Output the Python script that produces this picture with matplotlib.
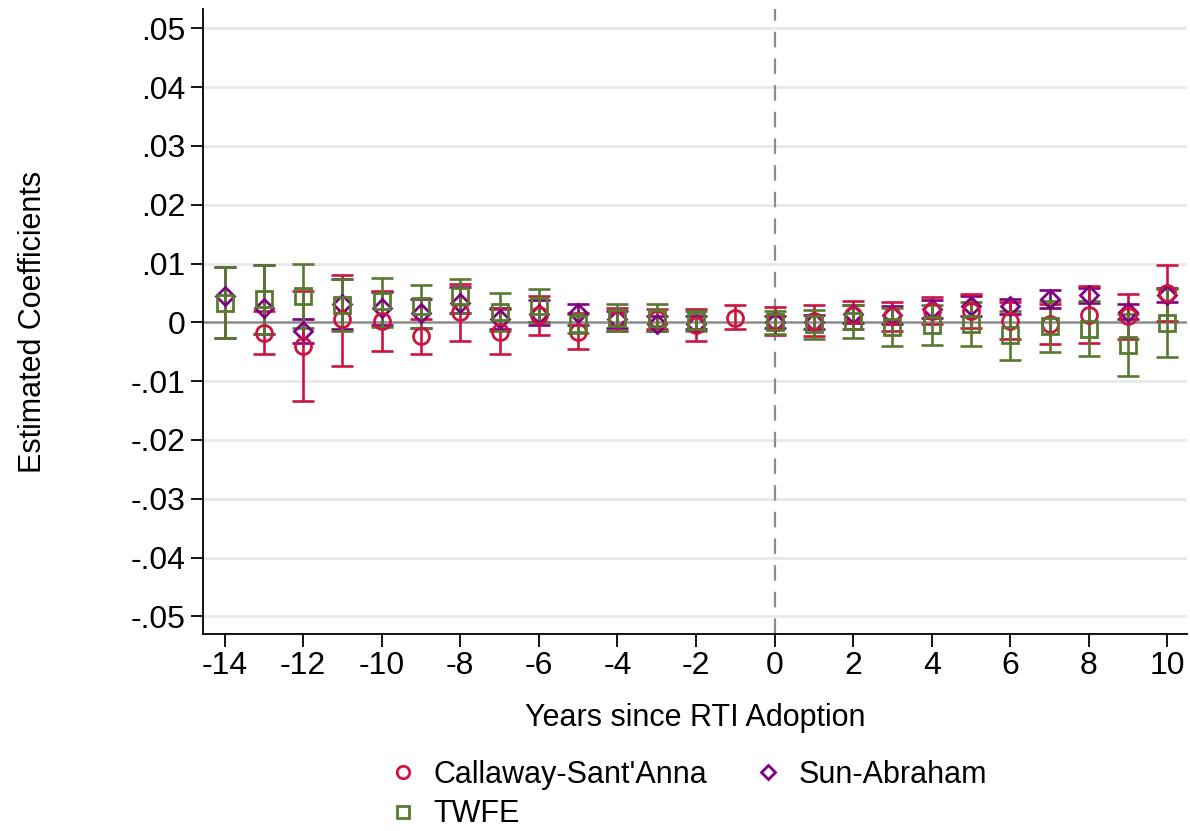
import matplotlib.pyplot as plt
import numpy as np
from matplotlib.lines import Line2D
from matplotlib.ticker import FuncFormatter

# event time (reference period -1 omitted for SA and TWFE)
years_tw = np.array([y for y in range(-14, 11) if y != -1])

# Callaway-Sant'Anna (no estimate at -14)
cs_years = np.arange(-13, 11)
cs_est = [-0.0018, -0.0040, 0.0005, 0.0002, -0.0024, 0.0018, -0.0016, 0.0012, -0.0016, 0.0005, 0.0005, -0.0004, 0.0008,
          0.0002, 0.0003, 0.0013, 0.0010, 0.0020, 0.0020, 0.0003, -0.0003, 0.0013, 0.0010, 0.0050]
cs_lo = [-0.0053, -0.0134, -0.0074, -0.0048, -0.0054, -0.0032, -0.0054, -0.0021, -0.0046, -0.0015, -0.0012, -0.0031, -0.0012,
         -0.0022, -0.0023, -0.0011, -0.0015, -0.0003, -0.0009, -0.0028, -0.0037, -0.0035, -0.0029, 0.0003]
cs_hi = [0.0019, 0.0054, 0.0081, 0.0054, 0.0006, 0.0066, 0.0022, 0.0045, 0.0016, 0.0025, 0.0022, 0.0023, 0.0029,
         0.0026, 0.0029, 0.0037, 0.0035, 0.0043, 0.0049, 0.0034, 0.0032, 0.0062, 0.0049, 0.0097]

# Sun-Abraham
sa_est = [0.0045, 0.0024, -0.0015, 0.0032, 0.0024, 0.0016, 0.0033, 0.0006, 0.0015, 0.0016, 0.0005, -0.0003, -0.0002,
          0.0000, 0.0000, 0.0014, 0.0013, 0.0023, 0.0027, 0.0027, 0.0040, 0.0046, 0.0018, 0.0046]
sa_lo = [-0.0027, -0.0020, -0.0035, -0.0011, -0.0004, -0.0009, 0.0016, -0.0012, -0.0005, -0.0004, -0.0010, -0.0014, -0.0012,
         -0.0010, -0.0012, -0.0001, -0.0002, 0.0008, 0.0010, 0.0014, 0.0025, 0.0033, 0.0005, 0.0034]
sa_hi = [0.0094, 0.0098, 0.0005, 0.0074, 0.0052, 0.0040, 0.0060, 0.0024, 0.0038, 0.0032, 0.0020, 0.0010, 0.0010,
         0.0010, 0.0012, 0.0029, 0.0028, 0.0038, 0.0044, 0.0040, 0.0055, 0.0059, 0.0031, 0.0058]

# TWFE
tw_est = [0.0033, 0.0039, 0.0045, 0.0030, 0.0037, 0.0027, 0.0045, 0.0017, 0.0028, -0.0002, 0.0008, 0.0008, 0.0003,
          0.0000, -0.0003, 0.0002, -0.0008, -0.0004, -0.0003, -0.0022, -0.0007, -0.0011, -0.0038, -0.0001]
tw_lo = [-0.0027, -0.0020, -0.0010, -0.0014, -0.0008, -0.0009, 0.0016, -0.0015, 0.0000, -0.0018, -0.0014, -0.0015, -0.0014,
         -0.0019, -0.0028, -0.0027, -0.0041, -0.0038, -0.0041, -0.0064, -0.0050, -0.0058, -0.0091, -0.0059]
tw_hi = [0.0094, 0.0098, 0.0100, 0.0074, 0.0075, 0.0063, 0.0074, 0.0050, 0.0056, 0.0014, 0.0031, 0.0031, 0.0020,
         0.0020, 0.0021, 0.0030, 0.0025, 0.0030, 0.0035, 0.0020, 0.0036, 0.0036, 0.0015, 0.0057]

red = '#CC1440'
purple = '#800080'
green = '#587A30'

plt.rcParams['font.family'] = ['Liberation Sans', 'DejaVu Sans']
plt.rcParams['axes.unicode_minus'] = False

fig = plt.figure(figsize=(11.9, 8.31), dpi=100)
ax = fig.add_axes([0.1706, 0.2371, 0.8269, 0.7521])

yt = np.arange(-0.05, 0.0501, 0.01)
for v in yt:
    if abs(v) > 1e-9:
        ax.axhline(v, color='#E8E8E8', lw=2, zorder=0)
ax.axhline(0, color='#8C8C8C', lw=1.8, zorder=1)
ax.axvline(0, color='#8C8C8C', lw=1.6, dashes=(7, 5), zorder=1)


def draw(x, est, lo, hi, color, marker, ms, z):
    est = np.array(est)
    err = [est - np.array(lo), np.array(hi) - est]
    ax.errorbar(x, est, yerr=err, fmt='none', ecolor=color, elinewidth=1.9,
                capsize=8, capthick=1.9, zorder=z)
    ax.plot(x, est, linestyle='none', marker=marker, ms=ms, mfc='none',
            mec=color, mew=2, zorder=z + 4)


draw(years_tw, sa_est, sa_lo, sa_hi, purple, 'D', 9.5, 2)
draw(cs_years, cs_est, cs_lo, cs_hi, red, 'o', 11.5, 3)
draw(years_tw, tw_est, tw_lo, tw_hi, green, 's', 12, 4)

ax.set_xlim(-14.55, 10.5)
ax.set_ylim(-0.053, 0.0533)
ax.set_xticks(np.arange(-14, 11, 2))
ax.set_yticks(yt)


def fmt(v, pos):
    if abs(v) < 1e-9:
        return '0'
    s = '%.2f' % v
    return s.replace('0.', '.')


ax.yaxis.set_major_formatter(FuncFormatter(fmt))
ax.tick_params(axis='both', labelsize=23, length=9, width=1.3, direction='out')
ax.spines['top'].set_visible(False)
ax.spines['right'].set_visible(False)
ax.spines['left'].set_linewidth(1.3)
ax.spines['bottom'].set_linewidth(1.3)

ax.set_xlabel('Years since RTI Adoption', fontsize=22)
ax.set_ylabel('Estimated Coefficients', fontsize=22)
ax.yaxis.set_label_coords(-0.158, 0.5)
ax.xaxis.set_label_coords(0.5, -0.11)

handles = [
    Line2D([], [], ls='none', marker='o', ms=9, mfc='none', mec=red, mew=2, label="Callaway-Sant'Anna"),
    Line2D([], [], ls='none', marker='s', ms=9, mfc='none', mec=green, mew=2, label='TWFE'),
    Line2D([], [], ls='none', marker='D', ms=7.5, mfc='none', mec=purple, mew=2, label='Sun-Abraham'),
]
fig.legend(handles=handles, loc='upper left', bbox_to_anchor=(0.318, 0.1), ncol=2, frameon=False,
           fontsize=22, handlelength=0.8, handletextpad=0.6, columnspacing=1.6, labelspacing=0.3,
           borderaxespad=0)

fig.savefig('out.png', dpi=100)
